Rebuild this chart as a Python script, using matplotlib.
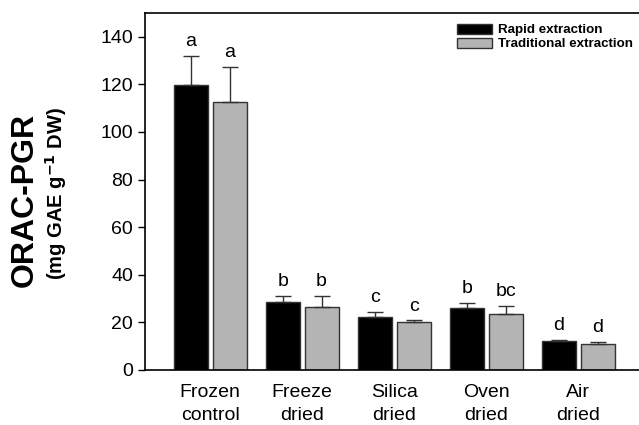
import numpy as np
import matplotlib.pyplot as plt

plt.rcParams['font.family'] = ['Liberation Sans', 'DejaVu Sans']

groups = ['Frozen\ncontrol', 'Freeze\ndried', 'Silica\ndried', 'Oven\ndried', 'Air\ndried']
rapid = [119.8, 28.7, 22.4, 26.2, 12.0]
rapid_err = [12.2, 2.3, 2.1, 2.0, 0.6]
trad = [112.5, 26.3, 20.0, 23.7, 10.9]
trad_err = [14.9, 4.8, 0.8, 3.1, 1.0]
rapid_letters = ['a', 'b', 'c', 'b', 'd']
trad_letters = ['a', 'b', 'c', 'bc', 'd']

fig = plt.figure(figsize=(6.39, 4.25), dpi=100)
ax = fig.add_axes([145 / 639, 55 / 425, 505 / 639, 357 / 425])

x = np.arange(len(groups))
w = 0.37
off = 0.21
ax.bar(x - off, rapid, w, color='black', edgecolor='#333333', linewidth=1,
       label='Rapid extraction')
ax.bar(x + off, trad, w, color='#b4b4b4', edgecolor='#333333', linewidth=1,
       label='Traditional extraction')
for xs, v, e in [(x - off, rapid, rapid_err), (x + off, trad, trad_err)]:
    ax.errorbar(xs, v, yerr=[np.zeros(len(e)), e], fmt='none', ecolor='#333333',
                elinewidth=1, capsize=6, capthick=1)

for xs, v, e, lab in [(x - off, rapid, rapid_err, rapid_letters),
                      (x + off, trad, trad_err, trad_letters)]:
    for xi, vi, ei, li in zip(xs, v, e, lab):
        ax.text(xi, vi + ei + 2.5, li, ha='center', va='bottom', fontsize=14)

ax.set_xlim(-0.71, 4.78)
ax.set_ylim(0, 150)
ax.set_yticks(np.arange(0, 141, 20))
ax.set_xticks(x)
ax.set_xticklabels(groups, fontsize=14, linespacing=1.5)
ax.tick_params(axis='x', length=0, pad=10)
ax.tick_params(axis='y', labelsize=14, direction='out', length=5, width=1)
ax.spines['right'].set_visible(False)
for s in ['left', 'bottom', 'top']:
    ax.spines[s].set_linewidth(1.2)

fig.text(0.038, 0.53, 'ORAC-PGR', rotation=90, ha='center', va='center',
         fontsize=23, fontweight='bold')
fig.text(0.088, 0.545, '(mg GAE g$^{\\mathbf{-1}}$ DW)', rotation=90, ha='center',
         va='center', fontsize=14.5, fontweight='bold')

ax.legend(loc='upper left', bbox_to_anchor=(0.597, 1.0), frameon=False,
          prop={'weight': 'bold', 'size': 9.6}, handlelength=2.6, handleheight=0.8,
          labelspacing=0.1, handletextpad=0.5, borderaxespad=0.4)

fig.savefig('out.png', dpi=100)
